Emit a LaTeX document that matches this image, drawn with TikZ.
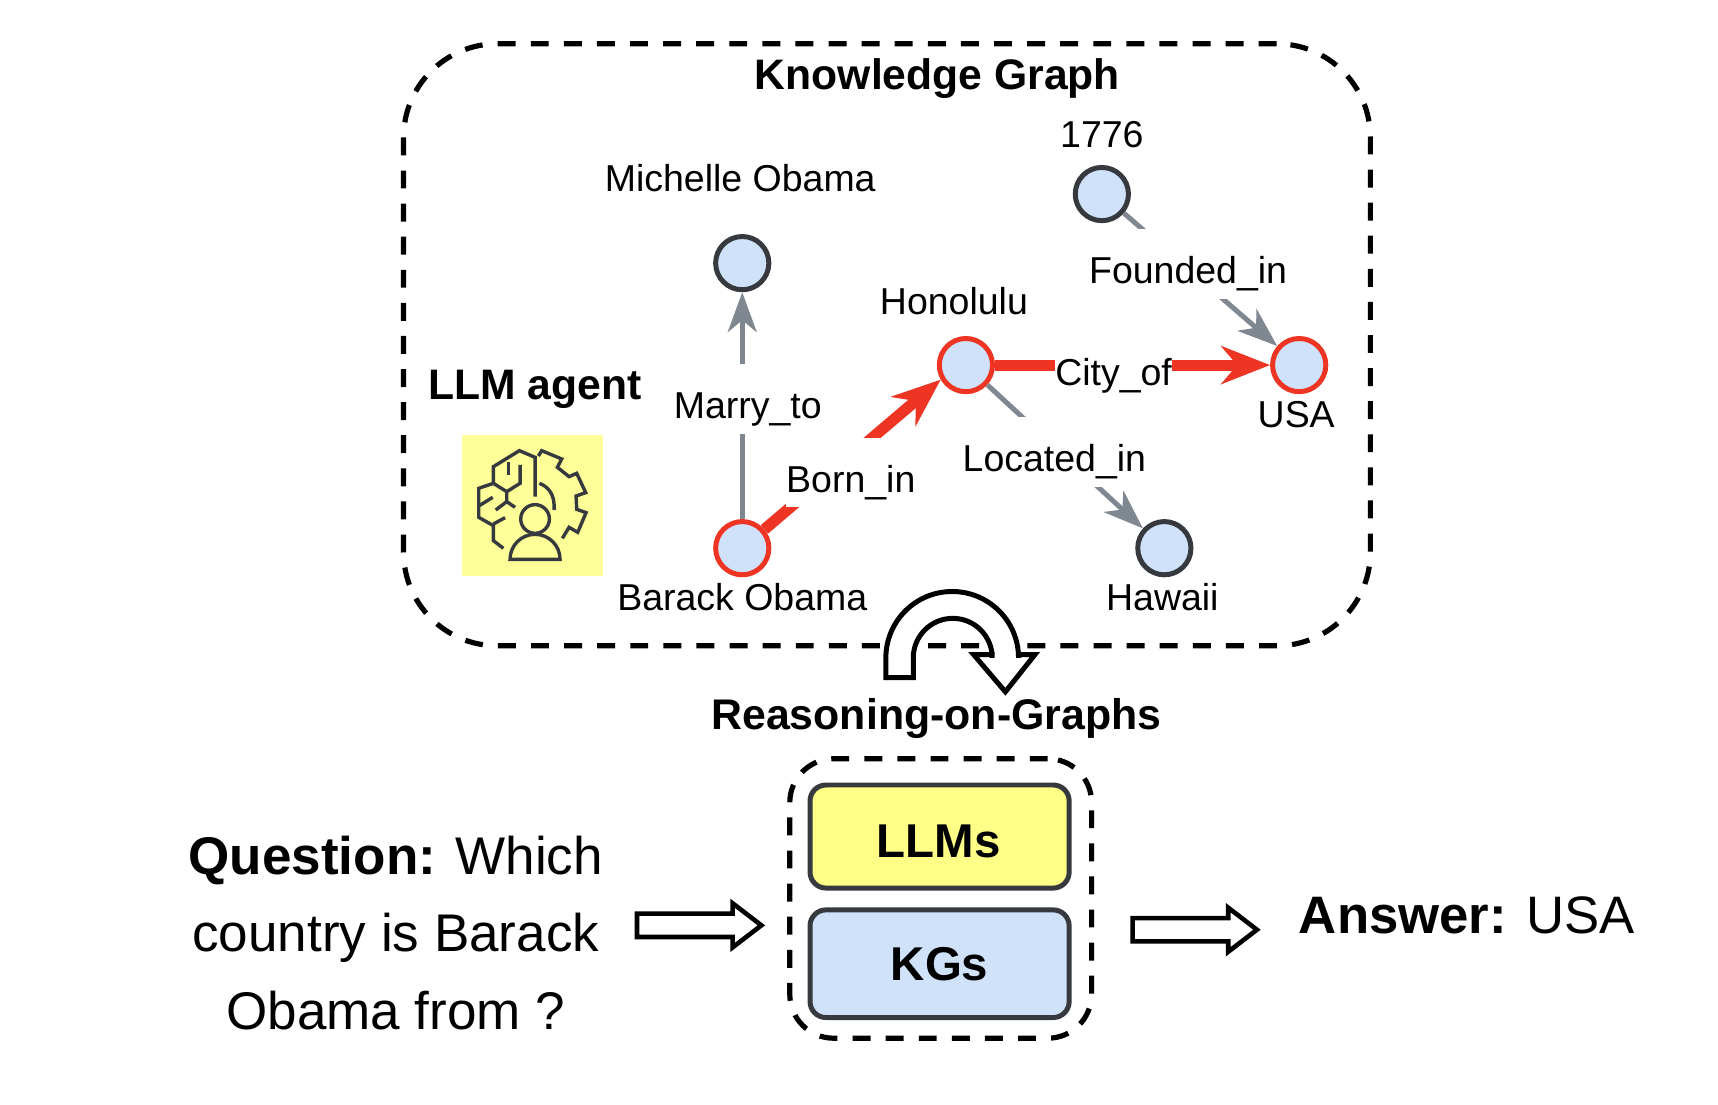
\documentclass[tikz,border=0pt]{standalone}
\usepackage{fontspec}
\setmainfont{Liberation Sans}
\usetikzlibrary{automata, positioning, arrows.meta, shapes.arrows}

\definecolor{kgblue}{HTML}{D0E2FA}
\definecolor{kgyellow}{HTML}{FFFF88}
\definecolor{agentyellow}{HTML}{FFFF99}
\definecolor{kgdark}{HTML}{36393D}
\definecolor{kgred}{HTML}{EE3524}
\definecolor{kggray}{HTML}{7F8790}

\tikzset{
    every state/.style={draw=kgdark, fill=kgblue, line width=2.5pt, minimum size=26.7pt, inner sep=0pt},
    visited/.style={draw=kgred},
    entity/.style={font=\fontsize{18.8}{22}\selectfont, inner sep=0pt, text height=.72em, text depth=.2em},
    relation/.style={font=\fontsize{18.8}{22}\selectfont, fill=white, inner sep=0pt, text height=20pt, text depth=0pt, minimum height=35pt},
    plainedge/.style={draw=kggray, line width=2.5pt, -{Stealth[length=20pt, width=14.5pt, inset=6pt]}},
    pathedge/.style={draw=kgred, line width=5.6pt, -{Stealth[length=24.5pt, width=19pt, inset=8pt]}},
    dashbox/.style={draw=black, line width=2.6pt, dash pattern=on 9pt off 7.6pt},
    module/.style={draw=kgdark, line width=2.5pt, rounded corners=8pt, font=\fontsize{23.8}{28}\selectfont\bfseries},
    bigarrow/.style={single arrow, anchor=tail, draw=black, fill=white, line width=2.3pt, inner sep=0pt, outer sep=0pt,
        text height=9.4pt, text depth=0pt, minimum height=62.4pt, single arrow head extend=5.2pt,
        single arrow head indent=0pt, single arrow tip angle=75},
    iconline/.style={draw=kgdark, line width=1.7pt},
}

\begin{document}
\begin{tikzpicture}[x=.55pt, y=.55pt]
    \useasboundingbox (0,0) rectangle (1567,-1007);

    \node[dashbox, rounded corners=47pt, minimum width=485pt, minimum height=302pt] (kgbox) at (809,-314.5) {};
    \node[font=\fontsize{21.4}{26}\selectfont\bfseries] (kgtitle) at (855,-72) {Knowledge Graph};

    \node[state] (michelle) at (677,-240) {};
    \node[state, visited] (barack) at (677,-500) {};
    \node[state, visited] (honolulu) at (881,-333) {};
    \node[state, visited] (usa) at (1185,-333) {};
    \node[state] (hawaii) at (1062,-500) {};
    \node[state] (founded) at (1005,-177) {};

    \node[entity, xshift=-1pt] (michellename) [above of=michelle, node distance=38.5pt] {Michelle Obama};
    \node[entity] (baracktext) [below of=barack, node distance=28.5pt] {Barack Obama};
    \node[entity, xshift=-6pt] (honolulutext) [above of=honolulu, node distance=28pt] {Honolulu};
    \node[entity, xshift=-1.5pt] (usatext) [below of=usa, node distance=28.5pt] {USA};
    \node[entity, xshift=-1pt] (hawaiitext) [below of=hawaii, node distance=28.5pt] {Hawaii};
    \node[entity] (foundedtext) [above of=founded, node distance=26pt] {1776};

    \path
    (barack) edge [plainedge] node [relation, pos=.531, xshift=2.8pt] {Marry\_to} (michelle)
    (founded) edge [plainedge] node [relation, pos=.38, xshift=3pt] {Founded\_in} (usa)
    (honolulu) edge [plainedge] node [relation, pos=.473, xshift=-3.3pt, yshift=.5pt] {Located\_in} (hawaii)
    (barack) edge [pathedge] node [relation, pos=.386, xshift=9.2pt, yshift=-.5pt] {Born\_in} (honolulu.210)
    (honolulu) edge [pathedge] node [relation, pos=.431] {City\_of} (usa)
    ;

    % agent icon
    \node[font=\fontsize{21.4}{25}\selectfont\bfseries] (agenttext) at (488,-355) {LLM agent};
    \node[fill=agentyellow, inner sep=0pt, minimum size=70.6pt] (agentbox) at (485.5,-461) {};
    \begin{scope}[shift={(364.9,-346.6)}, x=.1672pt, y=.1672pt, iconline, line join=miter]
        \draw (405,-350) -- (405,-232) -- (358,-212) -- (280,-260) -- (280,-310) -- (236,-325) -- (236,-412)
            -- (280,-437) -- (280,-482) -- (310,-505);
        \draw (325,-245) -- (325,-285);
        \draw (360,-255) -- (360,-310) -- (320,-335) -- (280,-310);
        \draw (320,-335) -- (320,-365) -- (345,-382);
        \draw (320,-365) -- (287,-390);
        \draw (236,-378) -- (278,-352);
        \draw (280,-432) -- (315,-413);
        \draw (415,-228) -- (425,-212) -- (485,-237) -- (472,-262) -- (507,-290) -- (530,-280) -- (557,-338)
            -- (528,-348) -- (530,-388) -- (558,-398) -- (533,-457) -- (507,-442) -- (487,-475);
        \draw (418,-310) .. controls (450,-322) and (465,-350) .. (462,-390);
        \draw (405,-417) circle (43);
        \draw (330,-538) arc (180:0:75) -- cycle;
    \end{scope}

    % loop arrow
    \draw[draw=black, fill=white, line width=2.5pt]
        (808,-618) -- (808,-600) arc (180:0:60.5) -- (929,-597) -- (944,-597) -- (917,-631) -- (888,-597)
        -- (905,-597) -- (905,-600) arc (0:180:36) -- (833,-618) -- cycle;
    \node[font=\fontsize{21.5}{25}\selectfont\bfseries] (rogtext) at (854,-655) {Reasoning-on-Graphs};

    \node[dashbox, rounded corners=22pt, minimum width=151.4pt, minimum height=140.2pt] (modelbox) at (858,-819.5) {};
    \node[module, fill=kgyellow, minimum width=130pt, minimum height=51.7pt] (llms) at (857,-763) {};
    \node[font=\fontsize{23.8}{28}\selectfont\bfseries] (llmstext) at (856,-767) {LLMs};
    \node[module, fill=kgblue, minimum width=130pt, minimum height=54pt] (kgs) at (857,-879) {KGs};

    \node[font=\fontsize{26.6}{39}\selectfont, align=center] (question) at (361,-851) {\textbf{Question:} Which\\country is Barack\\Obama from ?};
    \node[bigarrow] (inarrow) at (581,-844) {};
    \node[bigarrow] (outarrow) at (1033,-848) {};
    \node[font=\fontsize{26.45}{32}\selectfont] (answer) at (1338,-835) {\textbf{Answer:} USA};
\end{tikzpicture}
\end{document}
